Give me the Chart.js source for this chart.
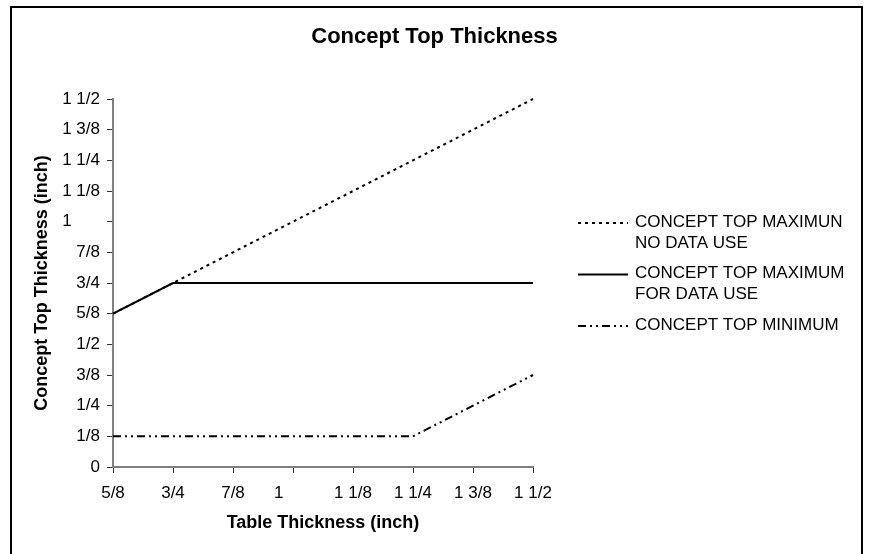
<!DOCTYPE html>
<html><head><meta charset="utf-8">
<script src="https://cdn.jsdelivr.net/npm/chart.js@4/dist/chart.umd.min.js"></script>
<style>html,body{margin:0;padding:0;background:#fff;} #wrap{width:869px;height:554px;position:relative;overflow:hidden;}</style>
</head><body><div id="wrap"><canvas id="c" width="869" height="554"></canvas></div>
<script>
const tableThickness = [0.625, 0.75, 0.875, 1, 1.125, 1.25, 1.375, 1.5];
const maxNoDataUse = [0.625, 0.75, 0.875, 1, 1.125, 1.25, 1.375, 1.5];
const maxForDataUse = [0.625, 0.75, 0.75, 0.75, 0.75, 0.75, 0.75, 0.75];
const minimum = [0.125, 0.125, 0.125, 0.125, 0.125, 0.125, 0.25, 0.375];
const seriesNames = [["CONCEPT TOP MAXIMUN", "NO DATA USE"], ["CONCEPT TOP MAXIMUM", "FOR DATA USE"], ["CONCEPT TOP MINIMUM"]];
const tickLabels = ['0', '1/8', '1/4', '3/8', '1/2', '5/8', '3/4', '7/8', '1      ', '1 1/8', '1 1/4', '1 3/8', '1 1/2'];
const chartTitle = 'Concept Top Thickness';
const xTitle = 'Table Thickness (inch)';
const yTitle = 'Concept Top Thickness (inch)';

const FONT = "'Liberation Sans', Arial, sans-serif";
Chart.defaults.font.family = FONT;
Chart.defaults.color = '#000';

const toPts = ys => tableThickness.map((x, i) => ({x: x, y: ys[i]}));
const fracLabel = v => tickLabels[Math.round(v / 0.125)] ?? '';

const styles = [
  {borderDash: [3, 4]},
  {borderDash: []},
  {borderDash: [8, 4, 2, 4, 2, 4]}
];
const seriesValues = [maxNoDataUse, maxForDataUse, minimum];

const datasets = seriesValues.map((vals, i) => ({
  label: seriesNames[i].join(' '),
  legendLines: seriesNames[i],
  data: toPts(vals),
  borderColor: '#000',
  backgroundColor: '#000',
  borderWidth: 2,
  borderDash: styles[i].borderDash,
  pointRadius: 0,
  fill: false,
  tension: 0,
  clip: false
}));

const framePlugin = {
  id: 'frame',
  beforeDraw(chart) {
    const ctx = chart.ctx;
    ctx.save();
    ctx.fillStyle = '#fff';
    ctx.fillRect(0, 0, chart.width, chart.height);
    ctx.restore();
  },
  afterDraw(chart) {
    const ctx = chart.ctx;
    ctx.save();
    ctx.strokeStyle = '#000';
    ctx.lineWidth = 2;
    ctx.strokeRect(11, 7, 851, 700);
    ctx.restore();
  }
};

const legendPlugin = {
  id: 'sideLegend',
  afterDraw(chart) {
    const ctx = chart.ctx;
    const x0 = chart.chartArea.right + 45;
    const lineLen = 50;
    const textX = x0 + lineLen + 7;
    const lh = 21;
    let y = 222;
    ctx.save();
    ctx.font = '17px ' + FONT;
    ctx.textBaseline = 'middle';
    ctx.textAlign = 'left';
    ctx.fillStyle = '#000';
    chart.data.datasets.forEach(ds => {
      ctx.strokeStyle = ds.borderColor;
      ctx.lineWidth = 2;
      ctx.setLineDash(ds.borderDash || []);
      ctx.beginPath();
      ctx.moveTo(x0, y + 1);
      ctx.lineTo(x0 + lineLen, y + 1);
      ctx.stroke();
      ctx.setLineDash([]);
      ds.legendLines.forEach((t, k) => ctx.fillText(t, textX, y + k * lh));
      y += ds.legendLines.length * lh + 9.5;
    });
    ctx.restore();
  }
};

new Chart(document.getElementById('c'), {
  type: 'line',
  data: {datasets: datasets},
  plugins: [framePlugin, legendPlugin],
  options: {
    responsive: false,
    animation: false,
    devicePixelRatio: 1,
    layout: {padding: 0},
    plugins: {
      legend: {display: false},
      tooltip: {enabled: false},
      title: {
        display: true,
        text: chartTitle,
        color: '#000',
        font: {size: 22, weight: 'bold', lineHeight: 1.2},
        padding: {top: 24, bottom: 48.6}
      }
    },
    scales: {
      x: {
        type: 'linear',
        position: 'bottom',
        min: 0.625,
        max: 1.5,
        afterFit: s => { s.height = 87; },
        ticks: {stepSize: 0.125, callback: fracLabel, font: {size: 17}, color: '#000', padding: 10, maxRotation: 0, autoSkip: false},
        grid: {drawOnChartArea: false, drawTicks: true, tickLength: 6, tickColor: '#333', tickWidth: 1},
        border: {display: true, color: '#808080', width: 2},
        title: {display: true, text: xTitle, color: '#000', font: {size: 18, weight: 'bold', lineHeight: 1.2}, padding: {top: 0, bottom: 20}}
      },
      y: {
        type: 'linear',
        position: 'left',
        min: 0,
        max: 1.5,
        afterFit: s => { s.width = 113; },
        ticks: {stepSize: 0.125, callback: fracLabel, font: {size: 17}, color: '#000', padding: 7, autoSkip: false},
        grid: {drawOnChartArea: false, drawTicks: true, tickLength: 6, tickColor: '#333', tickWidth: 1},
        border: {display: true, color: '#808080', width: 2},
        title: {display: true, text: yTitle, color: '#000', font: {size: 18, weight: 'bold', lineHeight: 1.2}, padding: {top: 31, bottom: 0}}
      },
      yRight: {
        type: 'linear',
        position: 'right',
        display: true,
        afterFit: s => { s.width = 336; },
        ticks: {display: false},
        grid: {display: false},
        border: {display: false},
        title: {display: false}
      }
    }
  }
});
</script>
</body></html>
